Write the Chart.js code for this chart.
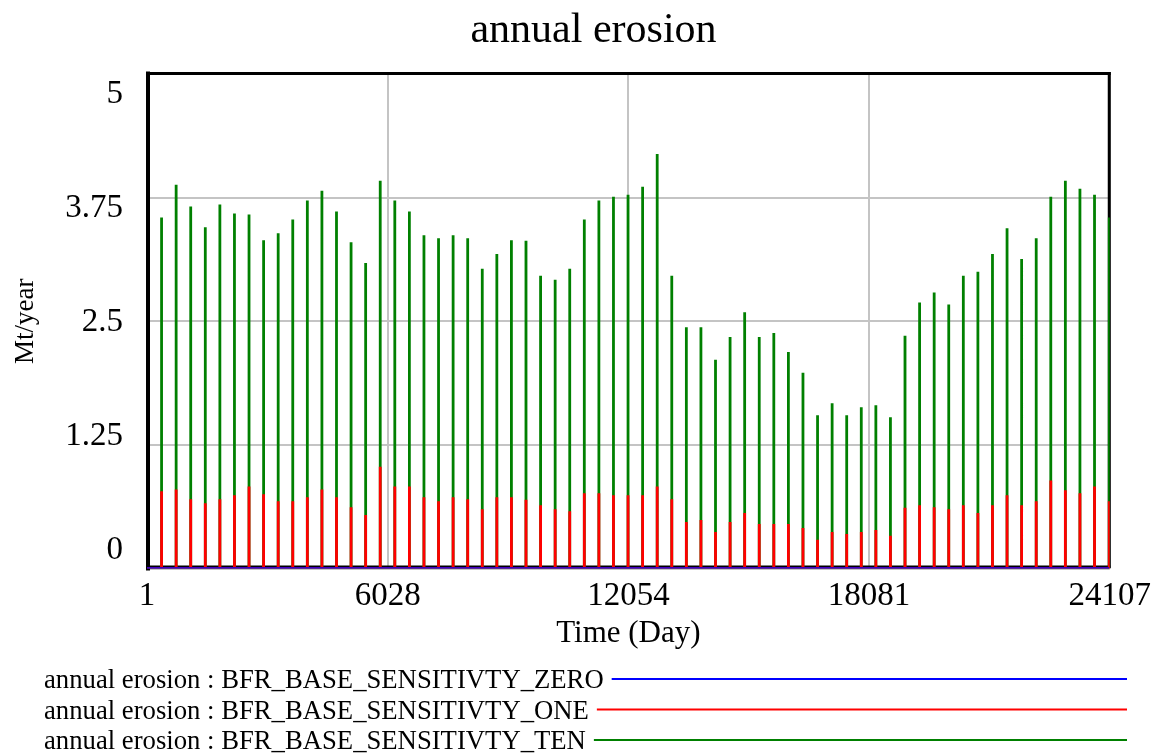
<!DOCTYPE html>
<html><head><meta charset="utf-8">
<script src="https://cdn.jsdelivr.net/npm/chart.js@4.4.1/dist/chart.umd.min.js"></script>
<style>html,body{margin:0;padding:0;background:#fff;}canvas{display:block;}</style>
</head><body>
<canvas id="c" width="1159" height="754"></canvas>
<script>
const chartTitle = 'annual erosion';
const xAxisTitle = 'Time (Day)';
const yAxisTitle = 'Mt/year';
const seriesLabels = [
  'annual erosion : BFR_BASE_SENSITIVTY_ZERO',
  'annual erosion : BFR_BASE_SENSITIVTY_ONE',
  'annual erosion : BFR_BASE_SENSITIVTY_TEN'
];
const timeStart = 1;
const timeEnd = 24107;
const xTickValues = [1, 6027.5, 12054, 18080.5, 24107];
const xTickLabels = ['1', '6028', '12054', '18081', '24107'];
const yTickValues = [0, 1.25, 2.5, 3.75, 5];
const yTickLabels = ['0', '1.25', '2.5', '3.75', '5'];

// day of each yearly erosion pulse
const spikeDays = [365,730,1095,1460,1825,2190,2555,2920,3285,3650,4015,4380,4745,5110,5475,5840,6205,6570,6935,7300,7665,8030,8395,8760,9125,9490,9855,10220,10585,10950,11315,11680,12045,12410,12775,13140,13505,13870,14235,14600,14965,15330,15695,16060,16425,16790,17155,17520,17885,18250,18615,18980,19345,19710,20075,20440,20805,21170,21535,21900,22265,22630,22995,23360,23725,24090];

const zeroValues = [0,0,0,0,0,0,0,0,0,0,0,0,0,0,0,0,0,0,0,0,0,0,0,0,0,0,0,0,0,0,0,0,0,0,0,0,0,0,0,0,0,0,0,0,0,0,0,0,0,0,0,0,0,0,0,0,0,0,0,0,0,0,0,0,0,0];
const oneValues = [0.78,0.80,0.70,0.66,0.70,0.74,0.83,0.75,0.68,0.68,0.72,0.80,0.72,0.62,0.54,1.03,0.83,0.83,0.72,0.68,0.72,0.70,0.60,0.72,0.72,0.68,0.64,0.60,0.58,0.76,0.76,0.74,0.74,0.74,0.83,0.70,0.47,0.49,0.37,0.47,0.56,0.45,0.45,0.45,0.41,0.29,0.37,0.35,0.37,0.39,0.33,0.60,0.64,0.62,0.60,0.64,0.56,0.64,0.74,0.64,0.68,0.89,0.79,0.76,0.83,0.68];
const tenValues = [3.55,3.88,3.66,3.45,3.68,3.59,3.58,3.32,3.39,3.53,3.72,3.82,3.61,3.30,3.09,3.92,3.72,3.61,3.37,3.34,3.37,3.34,3.03,3.18,3.32,3.30,2.96,2.92,3.03,3.53,3.72,3.76,3.78,3.86,4.19,2.96,2.44,2.44,2.11,2.34,2.59,2.34,2.38,2.19,1.98,1.55,1.67,1.55,1.63,1.65,1.53,2.34,2.69,2.79,2.67,2.96,3.00,3.18,3.44,3.13,3.34,3.76,3.92,3.84,3.78,3.55];

function pulses(values) {
  const pts = [{x: timeStart, y: 0}];
  spikeDays.forEach((d, i) => {
    pts.push({x: d, y: 0}, {x: d, y: values[i]}, {x: d + 1, y: values[i]}, {x: d + 1, y: 0});
  });
  pts.push({x: timeEnd, y: 0});
  return pts;
}

const FONT = "'Liberation Serif', 'Times New Roman', serif";
Chart.defaults.font.family = FONT;
Chart.defaults.color = '#000';

const framePlugin = {
  id: 'frame',
  beforeDatasetsDraw(chart) {
    const {ctx, chartArea: a} = chart;
    ctx.save();
    ctx.strokeStyle = '#000';
    ctx.lineCap = 'square';
    ctx.lineWidth = 3;
    ctx.beginPath(); ctx.moveTo(a.left + 1, a.top - 0.5); ctx.lineTo(a.right - 0.5, a.top - 0.5); ctx.stroke();
    ctx.beginPath(); ctx.moveTo(a.right - 0.5, a.top - 0.5); ctx.lineTo(a.right - 0.5, a.bottom - 2); ctx.stroke();
    ctx.lineWidth = 2;
    ctx.beginPath(); ctx.moveTo(a.left + 1, a.bottom - 2); ctx.lineTo(a.right - 0.5, a.bottom - 2); ctx.stroke();
    ctx.lineWidth = 4;
    ctx.beginPath(); ctx.moveTo(a.left + 1, a.top - 0.5); ctx.lineTo(a.left + 1, a.bottom); ctx.stroke();
    ctx.restore();
  }
};

const textPlugin = {
  id: 'texts',
  afterDraw(chart) {
    const {ctx} = chart;
    ctx.save();
    ctx.fillStyle = '#000';
    ctx.font = '42px ' + FONT;
    ctx.textAlign = 'center';
    ctx.textBaseline = 'alphabetic';
    ctx.fillText(chartTitle, 593.5, 42);
    ctx.font = '26.7px ' + FONT;
    ctx.textAlign = 'left';
    ctx.textBaseline = 'middle';
    chart.data.datasets.forEach((ds, i) => {
      const y = 680 + i * 30.5;
      ctx.fillStyle = '#000';
      ctx.fillText(ds.label, 44, y + 1);
      const w = ctx.measureText(ds.label).width;
      ctx.strokeStyle = ds.borderColor;
      ctx.lineWidth = 2;
      ctx.beginPath();
      ctx.moveTo(44 + w + 8, y - 1);
      ctx.lineTo(1127, y - 1);
      ctx.stroke();
    });
    ctx.restore();
  }
};

new Chart(document.getElementById('c'), {
  type: 'line',
  data: {
    datasets: [
      {label: seriesLabels[0], data: pulses(zeroValues), borderColor: '#0000ff', borderWidth: 2.5},
      {label: seriesLabels[1], data: pulses(oneValues), borderColor: '#ff0000', borderWidth: 2.8},
      {label: seriesLabels[2], data: pulses(tenValues), borderColor: '#008000', borderWidth: 2.8}
    ]
  },
  options: {
    responsive: false,
    animation: false,
    events: [],
    devicePixelRatio: 1,
    elements: {point: {radius: 0}, line: {tension: 0, borderJoinStyle: 'miter'}},
    layout: {padding: {top: 74, right: 49, bottom: 101.5, left: 0}},
    plugins: {legend: {display: false}, tooltip: {enabled: false}, title: {display: false}},
    scales: {
      x: {
        type: 'linear',
        min: timeStart, max: timeEnd,
        afterBuildTicks: s => { s.ticks = xTickValues.map(v => ({value: v})); },
        afterFit: s => { s.height = 84; },
        ticks: {
          autoSkip: false, maxRotation: 0, padding: 8,
          font: {size: 33},
          callback: (v, i) => xTickLabels[i]
        },
        grid: {color: '#c4c4c4', lineWidth: 2, drawTicks: false},
        border: {display: false},
        title: {display: true, text: xAxisTitle, font: {size: 31}, padding: {top: 0, bottom: 0}}
      },
      y: {
        position: 'left', weight: 0,
        min: 0, max: 5,
        afterBuildTicks: s => { s.ticks = yTickValues.map(v => ({value: v})); },
        afterFit: s => { s.width = 0; },
        ticks: {display: false},
        grid: {color: '#c4c4c4', lineWidth: 2, drawTicks: false},
        border: {display: false}
      },
      yLabels: {
        position: 'left', weight: 1,
        min: -0.203, max: 5.219,
        afterBuildTicks: s => { s.ticks = yTickValues.map(v => ({value: v})); },
        afterFit: s => { s.width = 147; },
        ticks: {padding: 24, font: {size: 33}, callback: (v, i) => yTickLabels[i]},
        grid: {display: false, drawTicks: false},
        border: {display: false},
        title: {display: true, text: yAxisTitle, font: {size: 27}, padding: {top: 10, bottom: 0}}
      }
    }
  },
  plugins: [framePlugin, textPlugin]
});
</script>
</body></html>
